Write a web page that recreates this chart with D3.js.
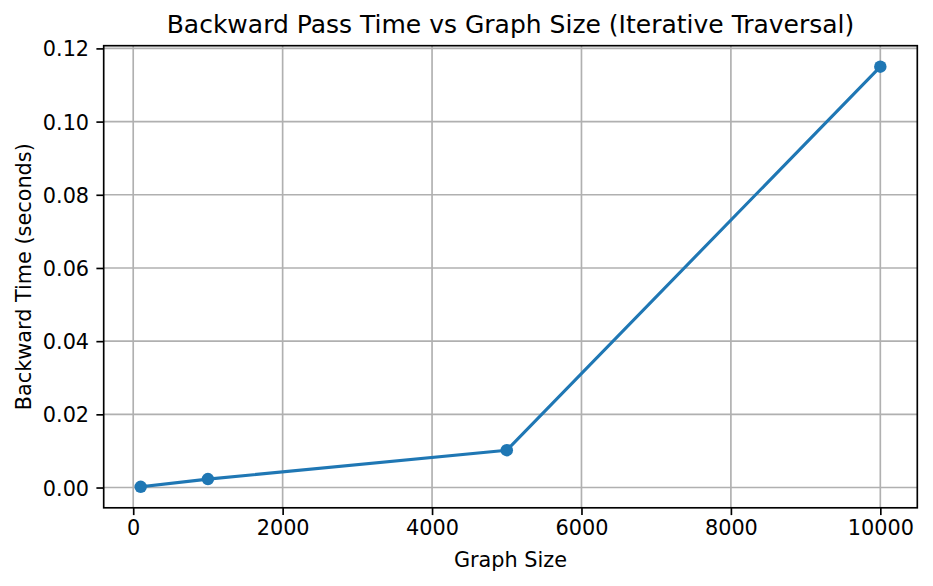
<!DOCTYPE html>
<html><head><meta charset="utf-8">
<script src="https://cdn.jsdelivr.net/npm/d3@7"></script>
<style>body{margin:0;background:#fff}svg{display:block}text{font-family:"DejaVu Sans",sans-serif;fill:#000}</style>
</head><body><svg id="c" width="933" height="586"></svg>
<script>
const graphSizes = [100, 1000, 5000, 10000];
const backwardTimes = [0.0002, 0.0023, 0.0102, 0.115];
const xTicks = [0, 2000, 4000, 6000, 8000, 10000];
const yTicks = [0.00, 0.02, 0.04, 0.06, 0.08, 0.10, 0.12];
const titleText = "Backward Pass Time vs Graph Size (Iterative Traversal)";
const xLabelText = "Graph Size";
const yLabelText = "Backward Time (seconds)";

const svg = d3.select("#c");
const L = 103.7, R = 917.3, T = 45.7, B = 507.8;
function pad(ext){const r=ext[1]-ext[0];return [ext[0]-0.05*r, ext[1]+0.05*r];}
const x = d3.scaleLinear().domain(pad(d3.extent(graphSizes))).range([L, R]);
const y = d3.scaleLinear().domain(pad(d3.extent(backwardTimes))).range([B, T]);
const data = graphSizes.map((g,i)=>({g, t: backwardTimes[i]}));

const gridColor = "#b0b0b0", sw = 1.67;
// grid
svg.append("g").selectAll("line").data(xTicks).join("line")
  .attr("x1", d=>x(d)).attr("x2", d=>x(d)).attr("y1", T).attr("y2", B)
  .attr("stroke", gridColor).attr("stroke-width", sw);
svg.append("g").selectAll("line").data(yTicks).join("line")
  .attr("x1", L).attr("x2", R).attr("y1", d=>y(d)).attr("y2", d=>y(d))
  .attr("stroke", gridColor).attr("stroke-width", sw);

// axes
const xAxis = d3.axisBottom(x).tickValues(xTicks).tickFormat(d3.format("d")).tickSizeInner(7.3).tickSizeOuter(0).tickPadding(5.5);
const yAxis = d3.axisLeft(y).tickValues(yTicks).tickFormat(d3.format(".2f")).tickSizeInner(7.3).tickSizeOuter(0).tickPadding(7.3);
const gx = svg.append("g").attr("transform", `translate(0,${B})`).call(xAxis);
const gy = svg.append("g").attr("transform", `translate(${L},0)`).call(yAxis);
[gx, gy].forEach(g=>{
  g.select(".domain").remove();
  g.selectAll(".tick line").attr("stroke", "#000").attr("stroke-width", sw);
  g.selectAll(".tick text").attr("font-size", "20.8px").attr("font-family", "DejaVu Sans").attr("fill", "#000");
});
gy.selectAll(".tick text").attr("dy", "0.36em");

// line + markers
svg.append("path").datum(data)
  .attr("d", d3.line().x(d=>x(d.g)).y(d=>y(d.t)))
  .attr("fill", "none").attr("stroke", "#1f77b4").attr("stroke-width", 3.1)
  .attr("stroke-linejoin", "round").attr("stroke-linecap", "square");
svg.append("g").selectAll("circle").data(data).join("circle")
  .attr("cx", d=>x(d.g)).attr("cy", d=>y(d.t)).attr("r", 6.25).attr("fill", "#1f77b4");

// spines
svg.append("rect").attr("x", L).attr("y", T).attr("width", R-L).attr("height", B-T)
  .attr("fill", "none").attr("stroke", "#000").attr("stroke-width", sw);

// texts
svg.append("text").attr("x", (L+R)/2).attr("y", 33.3).attr("text-anchor", "middle")
  .attr("font-size", "25px").text(titleText);
svg.append("text").attr("x", (L+R)/2).attr("y", 566.5).attr("text-anchor", "middle")
  .attr("font-size", "20.8px").text(xLabelText);
svg.append("text").attr("transform", `translate(30.5,${(T+B)/2}) rotate(-90)`).attr("text-anchor", "middle")
  .attr("font-size", "20.8px").text(yLabelText);
</script></body></html>
